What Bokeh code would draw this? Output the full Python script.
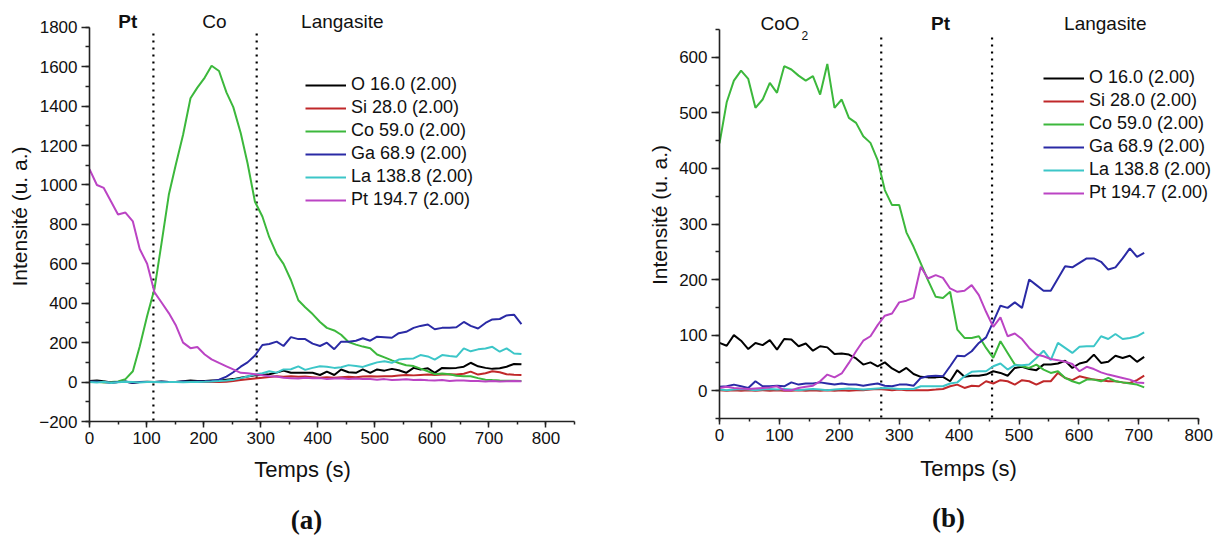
from bokeh.plotting import figure
from bokeh.layouts import row, column
from bokeh.models import SingleIntervalTicker, Legend, LegendItem
from bokeh.core.properties import value
from bokeh.embed import file_html
from bokeh.resources import INLINE

# ---------------- data : panel (a) ----------------
time_a = [0, 13, 25, 38, 50, 63, 76, 88, 101, 114, 126, 139, 151, 164, 177, 189, 202, 214, 227, 240,
          252, 265, 277, 290, 303, 315, 328, 340, 353, 366, 378, 391, 404, 416, 429, 441, 454, 467, 479, 492,
          504, 517, 530, 542, 555, 568, 580, 593, 605, 618, 631, 643, 656, 668, 681, 694, 706, 719, 731, 744, 757]
O_a = [5, 8, 4, -2, 0, 3, -5, 0, 2, 0, 3, 1, 0, 4, 8, 6, 6, 8, 8, 12,
       15, 22, 28, 35, 36, 40, 48, 58, 47, 47, 47, 47, 36, 53, 36, 64, 50, 47, 64, 47,
       64, 58, 67, 60, 47, 72, 64, 70, 47, 72, 70, 72, 78, 98, 80, 72, 67, 70, 78, 92, 90]
Si_a = [0, 1, 0, -1, 0, 0, 1, 0, 0, 1, 0, 0, 1, 0, 0, 1, 0, 1, 1, 2,
        5, 10, 14, 18, 22, 26, 30, 27, 30, 27, 28, 25, 22, 24, 22, 25, 27, 25, 28, 30,
        28, 30, 30, 33, 36, 34, 36, 38, 36, 38, 40, 38, 42, 53, 38, 45, 55, 50, 40, 37, 36]
Co_a = [0, 2, -2, 0, 3, 15, 55, 180, 335, 475, 700, 950, 1100, 1255, 1440, 1494, 1545, 1605, 1578, 1470,
        1395, 1264, 1110, 915, 840, 735, 650, 600, 518, 415, 380, 345, 305, 275, 262, 240, 203, 190, 180, 172,
        140, 125, 110, 97, 85, 81, 68, 55, 40, 43, 40, 32, 30, 30, 20, 12, 10, 8, 7, 7, 6]
Ga_a = [3, 2, 0, -3, 0, 2, -4, 0, 1, 0, 2, 0, 1, 3, 2, 3, 4, 5, 12, 28,
        50, 78, 100, 135, 188, 193, 205, 183, 228, 218, 218, 195, 183, 200, 167, 205, 205, 210, 222, 210,
        230, 228, 225, 248, 255, 275, 285, 292, 268, 275, 276, 278, 305, 285, 272, 300, 318, 320, 338, 342, 294]
La_a = [0, -2, 2, -5, -1, 2, 0, -2, 0, 1, -1, 0, 1, -1, 0, 1, 2, 3, 5, 8,
        12, 20, 28, 38, 45, 55, 48, 64, 65, 80, 62, 72, 80, 78, 72, 75, 86, 82, 77, 89,
        100, 106, 98, 114, 118, 120, 137, 130, 114, 137, 132, 128, 171, 156, 166, 170, 179, 154, 171, 145, 142]
Pt_a = [1080, 1000, 985, 915, 850, 860, 815, 675, 600, 455, 405, 350, 290, 200, 172, 178, 140, 115, 97, 80,
        64, 47, 45, 40, 35, 30, 28, 22, 20, 18, 22, 20, 20, 15, 18, 20, 16, 18, 15, 16,
        12, 15, 10, 12, 14, 10, 12, 9, 8, 10, 6, 8, 8, 5, 6, 3, 5, 3, 4, 5, 4]

# ---------------- data : panel (b) ----------------
time_b = [0, 12, 24, 36, 48, 60, 72, 84, 96, 108, 120, 132, 144, 156, 168, 180, 192, 204, 216, 228,
          240, 252, 264, 276, 288, 300, 312, 324, 336, 348, 361, 373, 385, 397, 409, 421, 433, 445, 457, 469,
          481, 493, 505, 517, 529, 541, 553, 565, 577, 589, 601, 613, 625, 637, 649, 661, 673, 685, 697, 709]
O_b = [86, 81, 100, 90, 75, 86, 82, 91, 74, 93, 92, 80, 85, 72, 80, 78, 66, 67, 65, 58,
       47, 51, 44, 51, 40, 33, 41, 30, 25, 24, 24, 25, 17, 37, 25, 27, 27, 29, 35, 32,
       27, 41, 43, 39, 37, 47, 47, 49, 54, 41, 49, 52, 65, 50, 52, 63, 59, 63, 52, 61]
Si_b = [1, 0, 1, 0, 1, 0, 1, 0, 1, 0, 0, 1, 0, 1, 0, 1, 0, 1, 0, 1,
        1, 2, 3, 2, 1, 2, 1, 1, 1, 1, 2, 3, 8, 11, 5, 9, 8, 17, 13, 19,
        17, 11, 19, 17, 11, 17, 17, 32, 23, 19, 26, 23, 20, 19, 17, 17, 15, 14, 19, 27]
Co_b = [445, 519, 558, 576, 561, 509, 524, 554, 536, 584, 578, 567, 558, 566, 533, 588, 509, 524, 491, 482,
        458, 446, 415, 361, 334, 334, 285, 259, 229, 199, 169, 167, 178, 110, 95, 95, 98, 77, 59, 89,
        68, 47, 44, 41, 47, 38, 32, 35, 23, 17, 13, 20, 20, 17, 23, 17, 15, 13, 11, 6]
Ga_b = [7, 8, 11, 8, 5, 17, 8, 8, 9, 8, 15, 11, 13, 13, 15, 13, 11, 13, 11, 11,
        9, 11, 13, 9, 8, 11, 11, 9, 23, 26, 27, 26, 44, 63, 62, 71, 86, 96, 124, 153,
        149, 159, 149, 200, 190, 180, 180, 202, 224, 222, 230, 238, 238, 232, 218, 222, 238, 256, 241, 248]
La_b = [2, 1, 2, 3, 2, 1, 2, 3, 2, 3, 2, 1, 2, 3, 2, 1, 2, 3, 4, 3,
        2, 3, 4, 5, 4, 3, 3, 3, 8, 8, 8, 8, 13, 15, 26, 34, 35, 35, 44, 49,
        38, 46, 46, 47, 59, 72, 55, 86, 77, 68, 79, 80, 80, 98, 93, 102, 93, 95, 98, 105]
Pt_b = [5, 7, 5, 4, 3, 4, 5, 6, 8, 1, 1, 5, 7, 9, 17, 29, 24, 31, 50, 71,
        90, 98, 118, 135, 139, 159, 162, 167, 223, 202, 208, 203, 184, 178, 180, 190, 172, 142, 115, 132,
        98, 103, 93, 77, 65, 62, 57, 55, 52, 48, 35, 43, 39, 33, 29, 26, 23, 20, 15, 14]

series_names = ["O 16.0 (2.00)", "Si 28.0 (2.00)", "Co 59.0 (2.00)",
                "Ga 68.9 (2.00)", "La 138.8 (2.00)", "Pt 194.7 (2.00)"]
series_colors = ["#000000", "#c0282a", "#3cb83c", "#2a2aa5", "#3cc6c8", "#bb44c4"]

bounds_a = [112, 293]
bounds_b = [270, 455]

FONT = value("Liberation Sans")


def style(p, y_interval, ybounds, xbounds):
    p.xaxis.ticker = SingleIntervalTicker(interval=100, num_minor_ticks=2)
    p.yaxis.ticker = SingleIntervalTicker(interval=y_interval, num_minor_ticks=2)
    p.yaxis.bounds = ybounds
    p.xaxis.bounds = xbounds
    for ax in p.axis:
        ax.axis_line_color = "#222222"
        ax.axis_line_width = 1.6
        ax.major_tick_line_color = "#222222"
        ax.minor_tick_line_color = "#222222"
        ax.major_tick_line_width = 1.5
        ax.minor_tick_line_width = 1.5
        ax.major_tick_in = 0
        ax.minor_tick_in = 0
        ax.major_label_text_font = "Liberation Sans"
        ax.major_label_text_font_size = "17px"
        ax.major_label_text_color = "#111111"
    p.xaxis.major_tick_out = 6
    p.xaxis.minor_tick_out = 3
    p.yaxis.major_tick_out = 8
    p.yaxis.minor_tick_out = 4
    p.xaxis.major_label_standoff = 4
    p.yaxis.major_label_standoff = 4
    p.yaxis.axis_label = "Intensité (u. a.)"
    p.yaxis.axis_label_text_font = "Liberation Sans"
    p.yaxis.axis_label_text_font_size = "21px"
    p.yaxis.axis_label_text_font_style = "normal"
    p.yaxis.axis_label_text_color = "#111111"
    p.yaxis.axis_label_standoff = 5
    p.grid.visible = False


def add_series(p, t, ys, loc):
    items = []
    for name, col, y in zip(series_names, series_colors, ys):
        r = p.line(t, y, line_color=col, line_width=2)
        items.append(LegendItem(label=name, renderers=[r]))
    leg = Legend(items=items, location=loc, padding=0, margin=0, spacing=2,
                 glyph_width=41, glyph_height=20, label_height=20, label_standoff=5,
                 label_text_font="Liberation Sans", label_text_font_size="18px",
                 label_text_color="#111111",
                 background_fill_alpha=0, border_line_alpha=0)
    p.add_layout(leg)


def add_dividers(p, xs, y0, y1):
    p.segment(x0=xs, x1=xs, y0=[y0] * len(xs), y1=[y1] * len(xs),
              line_color="black", line_width=2.2, line_dash="2 5")


# ---------------- panel (a) ----------------
p1 = figure(frame_width=485, frame_height=410, x_range=(0, 850), y_range=(-200, 1880),
            output_backend="svg", toolbar_location=None,
            min_border_left=89, min_border_right=64, min_border_top=11, min_border_bottom=36,
            outline_line_color=None, background_fill_color="white")
style(p1, 200, (-200, 1800), (0, 850))
add_dividers(p1, bounds_a, -195, 1785)
add_series(p1, time_a, [O_a, Si_a, Co_a, Ga_a, La_a, Pt_a], (216, 211))
p1.text(x=[67], y=[1829], text=["Pt"], text_font=FONT, text_font_style="bold",
        text_font_size="19px", text_align="center", text_baseline="middle", text_color="#111111")
p1.text(x=[219, 443], y=[1829, 1829], text=["Co", "Langasite"], text_font=FONT,
        text_font_size="19px", text_align="center", text_baseline="middle", text_color="#111111")

# ---------------- panel (b) ----------------
p2 = figure(frame_width=494, frame_height=407, x_range=(0, 824.7), y_range=(-50, 682.4),
            output_backend="svg", toolbar_location=None,
            min_border_left=81, min_border_right=1, min_border_top=11, min_border_bottom=39,
            outline_line_color=None, background_fill_color="white")
style(p2, 100, (-50, 650), (0, 800))
add_dividers(p2, bounds_b, -48, 643)
add_series(p2, time_b, [O_b, Si_b, Co_b, Ga_b, La_b, Pt_b], (324, 215))
p2.text(x=[101, 644], y=[661, 661], text=["CoO", "Langasite"], text_font=FONT,
        text_font_size="19px", text_align="center", text_baseline="middle", text_color="#111111")
p2.text(x=[137], y=[640], text=["2"], text_font=FONT,
        text_font_size="12px", text_align="left", text_baseline="middle", text_color="#111111")
p2.text(x=[369], y=[661], text=["Pt"], text_font=FONT, text_font_style="bold",
        text_font_size="19px", text_align="center", text_baseline="middle", text_color="#111111")

# ---------------- captions under both panels (one strip, pixel coordinates) ----------------
cap = figure(frame_width=1208, frame_height=79, x_range=(0, 1208), y_range=(0, 79),
             x_axis_type=None, y_axis_type=None,
             min_border_left=0, min_border_right=0, min_border_top=0, min_border_bottom=0,
             output_backend="svg", toolbar_location=None, outline_line_color=None)
cap.grid.visible = False
cap.text(x=[302, 968], y=[67, 68], text=["Temps (s)", "Temps (s)"], text_font=FONT,
         text_font_size="22px", text_align="center", text_baseline="middle", text_color="#111111")
cap.text(x=[306, 948], y=[17, 19], text=["(a)", "(b)"], text_font=value("Liberation Serif"),
         text_font_style="bold", text_font_size="27px",
         text_align="center", text_baseline="middle", text_color="#111111")

layout = column(row(p1, p2), cap)
open("out.html", "w").write(file_html(layout, INLINE))
